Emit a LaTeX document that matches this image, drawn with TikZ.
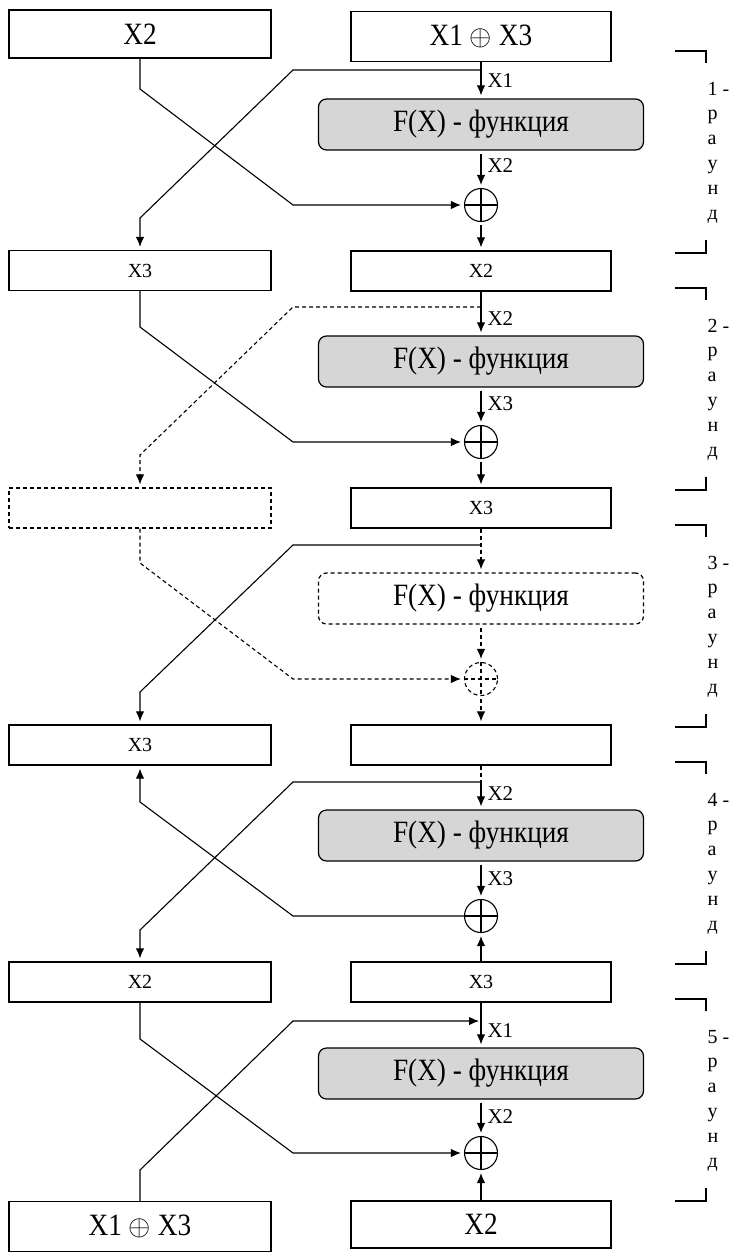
\documentclass[tikz,border=0pt]{standalone}
\usepackage{fontspec}
\usepackage{graphicx}
\setmainfont{Liberation Serif}
\newfontfamily\condfont[FakeStretch=0.88]{Liberation Serif}
\newcommand{\xorsign}{\raisebox{0.5pt}{\scalebox{1.15}{$\oplus$}}}
\usetikzlibrary{arrows.meta}
\definecolor{boxgray}{RGB}{214,214,214}
\begin{document}
\begin{tikzpicture}[x=1pt,y=-1pt,line width=1.1pt,
  box/.style={draw, line width=1.2pt, minimum width=262pt, minimum height=40pt,
    inner sep=0pt, font=\fontsize{20}{24}\selectfont},
  rbox/.style={box, minimum width=260pt},
  bigbox/.style={box, minimum height=48pt, font=\condfont\fontsize{31}{34}\selectfont},
  fbox/.style={draw, line width=1.2pt, rounded corners=8pt, fill=boxgray,
    minimum width=325pt, minimum height=51pt, inner sep=0pt,
    font=\condfont\fontsize{31}{34}\selectfont},
  xorop/.style={draw, circle, minimum size=33pt, inner sep=0pt, line width=1.1pt},
  arr/.style={-{Latex[length=10pt,width=8.5pt]}, shorten >=3pt},
  dsh/.style={dash pattern=on 4pt off 3pt},
  lbl/.style={anchor=west, inner sep=0pt, font=\fontsize{21}{24}\selectfont},
  rnd/.style={anchor=base west, inner sep=0pt, font=\fontsize{20}{24}\selectfont}
]
\useasboundingbox (0,0) rectangle (734,1253);

% ---- data blocks ----
\node[bigbox] (L0) at (140,34) {X2};
\node[bigbox, minimum width=260pt, minimum height=50pt] (R0) at (481,36.5) {X1 \xorsign{} X3};
\node[box] (L1) at (140,270.5) {X3};
\node[rbox] (R1) at (481,271) {X2};
\node[box, dsh] (L2) at (140,508) {};
\node[rbox] (R2) at (481,508) {X3};
\node[box] (L3) at (140,745) {X3};
\node[rbox] (R3) at (481,745) {};
\node[box] (L4) at (140,982) {X2};
\node[rbox] (R4) at (481,982) {X3};
\node[bigbox, minimum height=50pt] (L5) at (140,1226.5) {X1 \xorsign{} X3};
\node[bigbox, minimum width=260pt, minimum height=47pt] (R5) at (481,1224.5) {X2};

% ---- round functions ----
\node[fbox] (F1) at (481,124.5) {F(X) - функция};
\node[fbox] (F2) at (481,361.5) {F(X) - функция};
\node[fbox, fill=none, dsh] (F3) at (481,598.5) {F(X) - функция};
\node[fbox] (F4) at (481,835.5) {F(X) - функция};
\node[fbox] (F5) at (481,1073.5) {F(X) - функция};

% ---- XOR operators ----
\node[xorop] (x1) at (481,205) {};
\node[xorop] (x2) at (481,442) {};
\node[xorop, dsh] (x3) at (481,679) {};
\node[xorop] (x4) at (481,916) {};
\node[xorop] (x5) at (481,1153) {};
\foreach \n in {x1,x2,x4,x5}
  \draw (\n.north) -- (\n.south) (\n.west) -- (\n.east);
\draw[dsh] (x3.north) -- (x3.south) (x3.west) -- (x3.east);

% ---- junctions on the right line ----
\coordinate (j1) at (481,70);
\coordinate (j2) at (481,307);
\coordinate (j3) at (481,545);
\coordinate (j4) at (481,782);
\coordinate (e5) at (479,1021);

% ---- round 1 ----
\draw[arr] (R0.south) -- (F1.north);
\draw[arr] (j1) -- (293,70) -- (140,218) -- (L1.north);
\draw[arr] (L0.south) -- (140,89) -- (293,205) -- (x1.west);
\draw[arr, shorten <=3pt] (F1.south) -- (x1.north);
\draw[arr, shorten <=3pt] (x1.south) -- (R1.north);
\node[lbl] (t1a) at (487,81) {X1};
\node[lbl] (t1b) at (487,166) {X2};

% ---- round 2 ----
\draw[arr] (R1.south) -- (F2.north);
\draw[arr, dsh] (j2) -- (293,307) -- (140,455) -- (L2.north);
\draw[arr] (L1.south) -- (140,327) -- (293,442) -- (x2.west);
\draw[arr, shorten <=3pt] (F2.south) -- (x2.north);
\draw[arr, shorten <=3pt] (x2.south) -- (R2.north);
\node[lbl] (t2a) at (487,319) {X2};
\node[lbl] (t2b) at (487,404) {X3};

% ---- round 3 ----
\draw[arr, dsh] (R2.south) -- (F3.north);
\draw[arr] (j3) -- (293,545) -- (140,692) -- (L3.north);
\draw[arr, dsh] (L2.south) -- (140,563) -- (293,679) -- (x3.west);
\draw[arr, dsh, shorten <=3pt] (F3.south) -- (x3.north);
\draw[arr, dsh, shorten <=3pt] (x3.south) -- (R3.north);

% ---- round 4 ----
\draw[dsh] (R3.south) -- (j4);
\draw[arr] (j4) -- (F4.north);
\draw[arr] (j4) -- (293,782) -- (140,930) -- (L4.north);
\draw[arr] (x4.west) -- (293,916) -- (140,802) -- (L3.south);
\draw[arr, shorten <=3pt] (F4.south) -- (x4.north);
\draw[arr] (R4.north) -- (x4.south);
\node[lbl] (t4a) at (487,794) {X2};
\node[lbl] (t4b) at (487,879) {X3};

% ---- round 5 ----
\draw[arr] (R4.south) -- (F5.north);
\draw[arr, shorten >=0pt] (L5.north) -- (140,1170) -- (293,1021) -- (e5);
\draw[arr] (L4.south) -- (140,1039) -- (293,1153) -- (x5.west);
\draw[arr, shorten <=3pt] (F5.south) -- (x5.north);
\draw[arr] (R5.north) -- (x5.south);
\node[lbl] (t5a) at (487,1031) {X1};
\node[lbl] (t5b) at (487,1117) {X2};

% ---- round brackets with vertical captions ----
\foreach \k/\r in {0/1,1/2,2/3,3/4,4/5}{
  \pgfmathsetmacro\o{237*\k}
  \draw (675,{51+\o}) -- (706,{51+\o}) -- (706,{63+\o});
  \draw (706,{240+\o}) -- (706,{253+\o}) -- (675,{253+\o});
  \node[rnd] (c\r) at (707,{95+\o}) {\r\ -};
  \foreach \ch [count=\i] in {р,а,у,н,д}
    \node[rnd] (c\r-\i) at (707,{95+\o+24.8*\i}) {\ch};
}
\end{tikzpicture}
\end{document}
